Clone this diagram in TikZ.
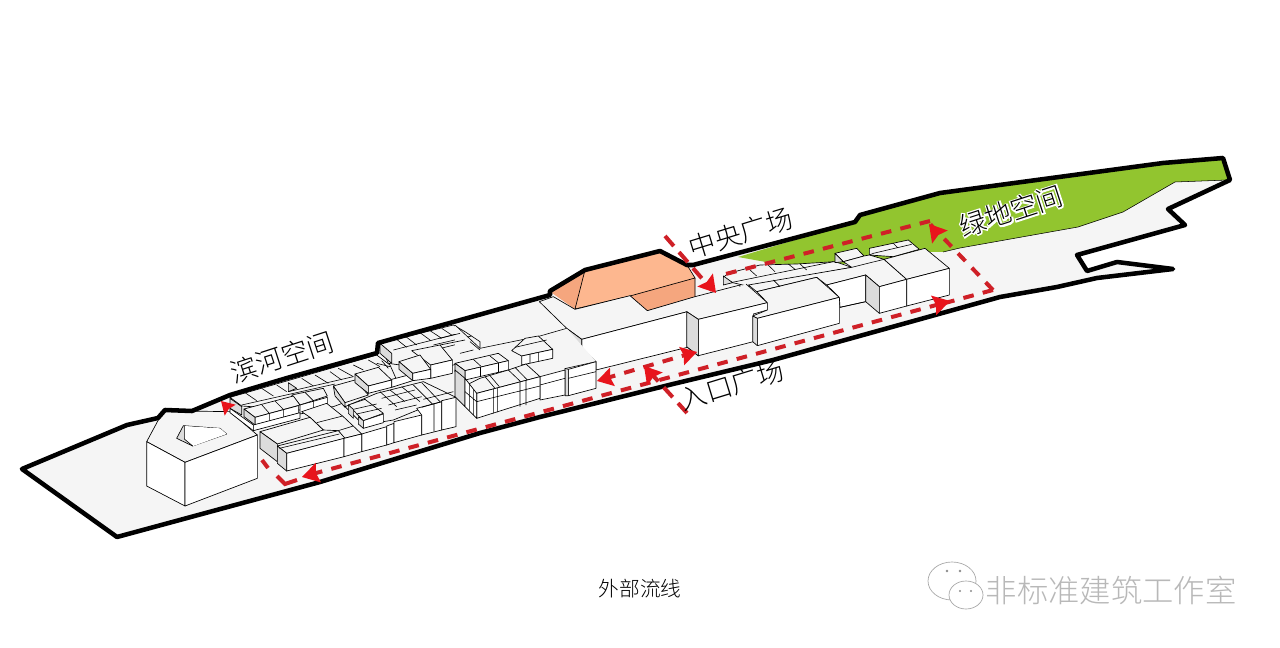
\documentclass[tikz,border=0pt]{standalone}
\usepackage{fontspec}
\newfontfamily\cjk[UprightFont={* Light}]{Noto Sans CJK SC}
\newfontfamily\cjkhalo[FakeBold=9]{Noto Sans CJK SC}
\tikzset{
 px/.style={x=0.75pt,y=-0.75pt},
 Zb/.style={shift={(220,310)},x=0.25pt,y=-0.25pt},
 Zc/.style={shift={(440,230)},x=0.25pt,y=-0.25pt},
 Zd/.style={shift={(660,190)},x=0.25pt,y=-0.25pt},
 Za/.style={shift={(0,340)},x=0.25pt,y=-0.25pt},
 e/.style={draw=black,line width=0.5pt,line join=round},
 tp/.style={e,fill=topc},
 sd/.style={e,fill=white},
 sh/.style={e,fill=shc},
 ln/.style={draw=black,line width=0.45pt},
 rim/.style={draw=black,line width=3.4pt,line join=round,line cap=round},
 rt/.style={draw=redc,line width=3pt,dash pattern=on 8pt off 7pt},
 tipr/.style={fill=redt,draw=none},
 lab/.style={font=\cjk\fontsize{20}{22}\selectfont,inner sep=0pt},
}
\definecolor{topc}{HTML}{F5F5F5}
\definecolor{shc}{HTML}{DCDCDC}
\definecolor{redc}{HTML}{CF2027}
\definecolor{redt}{HTML}{E8141C}
\definecolor{grn}{HTML}{92C52F}
\definecolor{org}{HTML}{FDB78F}
\definecolor{orgd}{HTML}{F5A67E}
\newcommand\tip[3]{%
 \fill[tipr,shift={#1},rotate=#2] (0,0) -- (-#3,-0.6*#3) -- (-0.85*#3,0) -- (-#3,0.6*#3) -- cycle;}
\newcommand\sitepath{(22,469) -- (127,425) -- (158,418) -- (165,410) -- (192,411) -- (230,395) -- (287,378) -- (377,353) -- (378,343) -- (550,295) -- (550,291) -- (585,270) -- (660,251) -- (687,265) -- (693,265) -- (855,222) -- (860,215) -- (940,193) -- (1163,163) -- (1223,158) -- (1230,180) -- (1168,209) -- (1185,225) -- (1077,255) -- (1087,271) -- (1117,262) -- (1173,269) -- (1097,278) -- (1057,287) -- (1000,297) -- (773,360) -- (673,384) -- (540,417) -- (480,433) -- (320,482) -- (117,537) -- cycle}
\begin{document}
\begin{tikzpicture}[px]
\useasboundingbox (0,0) rectangle (1280,648);
\fill[white] (0,0) rectangle (1280,648);
% site
\path[fill=topc] \sitepath;
% green
\fill[grn] (738,257) -- (855,222) -- (860,215) -- (940,193) -- (1163,163) -- (1223,158) -- (1228,180) -- (1175,182) -- (1123,212) -- (1078,227) -- (960,248) -- (943,252) -- (925,252) -- (875,264) -- (833,264) -- (777,264) -- cycle;
\draw[line width=0.4pt] (943,252) -- (960,248) -- (1078,227) -- (1123,212) -- (1175,182) -- (1228,180);
% orange
\fill[org] (550,291) -- (585,270) -- (660,251) -- (687,265) -- (695,278) -- (695,297) -- (647,311) -- (630,296) -- (575,309) -- cycle;
\fill[orgd] (552,293) -- (585,270) -- (575,309) -- cycle;
\fill[orgd] (630,296) -- (695,278) -- (695,297) -- (647,311) -- cycle;
\draw[line width=0.5pt] (585,270) -- (575,309) -- (630,296) -- (695,278) -- (687,265);
\draw[line width=0.5pt] (630,296) -- (647,311) -- (695,297) -- (695,278);
% ---- Left big block
\begin{scope}[Za]
\filldraw[tp] (440,305) -- (490,212) -- (690,215) -- (772,285) -- (555,367) -- cycle;
\filldraw[sd] (440,305) -- (555,367) -- (555,498) -- (440,438) -- cycle;
\filldraw[sd] (555,367) -- (772,285) -- (772,415) -- (555,498) -- cycle;
\filldraw[sh] (530,295) -- (550,257) -- (660,265) -- (680,282) -- (578,318) -- cycle;
\filldraw[fill=white,draw=none] (553,258) -- (660,265) -- (680,282) -- (580,318) -- (553,297) -- cycle;
\draw[ln] (553,258) -- (553,297) -- (578,318);
\end{scope}
% ---- main centre & right buildings
\begin{scope}[Zc]
\filldraw[tp] (298,215) -- (340,200) -- (405,238) -- (570,197) -- (622,242) -- (765,200) -- (900,165) -- (900,235) -- (775,270) -- (742,245) -- (425,328) -- (380,295) -- cycle;
\filldraw[sd] (425,328) -- (742,245) -- (742,352) -- (468,420) -- (468,395) -- (425,355) -- cycle;
\filldraw[sh] (380,295) -- (425,328) -- (425,355) -- (380,322) -- cycle;
\filldraw[sh] (742,245) -- (775,270) -- (775,378) -- (742,352) -- cycle;
\end{scope}
\begin{scope}[Zd]
% back low strip
\filldraw[tp] (190,262) -- (205,250) -- (300,225) -- (410,222) -- (525,215) -- (575,232) -- (270,290) -- (218,278) -- cycle;
\draw[ln] (270,240) -- (290,258) (325,226) -- (345,245) (385,222) -- (405,238) (420,222) -- (440,240) (212,278) -- (520,215);
\filldraw[sh] (190,285) -- (190,258) -- (218,278) -- cycle;
% back blocks
\filldraw[tp] (525,190) -- (590,175) -- (612,198) -- (550,215) -- cycle;
\filldraw[sh] (525,190) -- (550,215) -- (525,218) -- cycle;
\filldraw[tp] (628,175) -- (745,150) -- (778,178) -- (700,200) -- (628,195) -- cycle;
\draw[ln] (628,195) -- (640,190) -- (755,163) (700,160) -- (712,172);
% strip before
\filldraw[tp] (265,285) -- (575,232) -- (550,215) -- (612,198) -- (628,195) -- (672,208) -- (740,268) -- (658,290) -- (617,255) -- (500,285) -- (470,262) -- (290,305) -- cycle;
\draw[ln] (575,232) -- (672,208);
\filldraw[tp] (672,208) -- (795,175) -- (868,235) -- (740,268) -- cycle;
\fill[topc] (258,282) -- (322,338) -- (115,388) -- (80,365) -- cycle;
\draw[ln] (258,282) -- (322,338) -- (115,388) -- (80,365);
\filldraw[sd] (115,388) -- (322,338) -- (322,360) -- (280,372) -- (280,455) -- (115,497) -- cycle;
\filldraw[tp] (290,305) -- (470,262) -- (538,322) -- (292,385) -- (278,378) -- (322,360) -- (322,338) -- cycle;
\draw[ln] (340,270) -- (360,290);
\filldraw[sd] (292,385) -- (538,322) -- (538,400) -- (292,467) -- cycle;
\filldraw[sh] (278,378) -- (292,385) -- (292,467) -- (278,455) -- cycle;
\filldraw[sd] (500,285) -- (617,255) -- (617,335) -- (540,352) -- (538,322) -- cycle;
\draw[ln] (540,352) -- (617,335);
\filldraw[sh] (617,255) -- (658,290) -- (658,370) -- (617,335) -- cycle;
\filldraw[sd] (658,290) -- (740,268) -- (740,348) -- (658,370) -- cycle;
\filldraw[sd] (740,268) -- (868,235) -- (868,315) -- (740,348) -- cycle;
\filldraw[sh] (80,365) -- (115,388) -- (115,497) -- (80,470) -- cycle;
\end{scope}
% ---- river cluster
\begin{scope}[Zb]
\filldraw[tp] (480,100) -- (700,45) -- (735,65) -- (780,95) -- (780,140) -- (700,165) -- (632,178) -- (505,160) -- cycle;
\draw[ln] (530,88) -- (560,112) (555,78) -- (590,105) (600,68) -- (630,90) (630,62) -- (665,85) (665,55) -- (695,75) (520,120) -- (725,68) (640,105) -- (755,78) (650,118) -- (755,92);
\filldraw[sh] (480,100) -- (515,130) -- (515,160) -- (480,130) -- cycle;
\filldraw[tp] (575,122) -- (660,105) -- (697,150) -- (632,165) -- cycle;
\filldraw[sd] (632,165) -- (697,150) -- (697,190) -- (632,205) -- cycle;
% first row top
\filldraw[tp] (30,262) -- (200,213) -- (470,135) -- (510,165) -- (530,210) -- (420,260) -- (340,290) -- (240,300) -- (65,288) -- cycle;
\draw[ln] (75,248) -- (110,272) (125,235) -- (160,258) (170,225) -- (200,245) (245,205) -- (280,228) (285,195) -- (325,220) (330,185) -- (365,210) (355,175) -- (400,200) (400,165) -- (430,180) (445,150) -- (480,170);
\draw[ln] (65,285) -- (345,222) (205,245) -- (400,200);
\filldraw[sh] (205,218) -- (230,235) -- (205,245) -- cycle;
\filldraw[sh] (30,265) -- (65,290) -- (65,315) -- (30,295) -- cycle;
\filldraw[sd] (30,295) -- (100,345) -- (100,362) -- (30,308) -- cycle;
% central plate
\filldraw[tp] (340,228) -- (405,210) -- (445,255) -- (375,278) -- cycle;
\filldraw[sh] (340,228) -- (375,278) -- (375,292) -- (345,258) -- cycle;
% upper block
\filldraw[tp] (405,192) -- (475,172) -- (515,210) -- (445,228) -- cycle;
\filldraw[sh] (405,192) -- (445,228) -- (445,250) -- (405,218) -- cycle;
\filldraw[sd] (445,228) -- (515,210) -- (515,232) -- (445,250) -- cycle;
\filldraw[sd] (515,208) -- (578,192) -- (578,212) -- (515,232) -- cycle;
\draw[ln] (470,160) -- (510,170) (485,152) -- (505,175);
% block E
\filldraw[tp] (537,155) -- (600,135) -- (632,178) -- (578,190) -- cycle;
\filldraw[sh] (537,155) -- (578,190) -- (578,212) -- (537,178) -- cycle;
\filldraw[sd] (578,190) -- (632,178) -- (632,205) -- (578,212) -- cycle;
% left tiers
\filldraw[tp] (215,255) -- (310,235) -- (322,258) -- (240,285) -- cycle;
\filldraw[sd] (240,285) -- (322,262) -- (322,295) -- (240,312) -- cycle;
\draw[ln] (280,272) -- (280,298) (255,247) -- (280,272);
\filldraw[tp] (72,297) -- (220,258) -- (240,285) -- (105,322) -- cycle;
\filldraw[sd] (105,322) -- (235,287) -- (235,310) -- (105,345) -- cycle;
\filldraw[sh] (72,297) -- (105,322) -- (105,345) -- (72,320) -- cycle;
\draw[ln] (148,310) -- (148,333) (190,298) -- (190,322) (125,284) -- (148,310) (165,273) -- (190,298);
\filldraw[sd] (100,345) -- (240,308) -- (240,325) -- (100,362) -- cycle;
% mid roofs
\filldraw[tp] (470,250) -- (610,215) -- (708,262) -- (605,295) -- (520,330) -- (430,345) -- (375,290) -- cycle;
\draw[ln] (480,245) -- (530,290) (510,240) -- (555,275) (545,230) -- (600,275) (580,225) -- (640,285) (605,218) -- (660,275) (485,265) -- (585,240) (505,285) -- (605,260) (525,300) -- (590,285) (610,268) -- (700,245);
% front mid
\filldraw[sd] (425,372) -- (500,350) -- (500,405) -- (425,425) -- cycle;
\filldraw[sd] (500,348) -- (522,340) -- (522,398) -- (500,405) -- cycle;
\filldraw[sd] (522,335) -- (605,315) -- (605,375) -- (522,398) -- cycle;
\filldraw[sd] (590,295) -- (665,275) -- (665,360) -- (605,375) -- (605,315) -- cycle;
\filldraw[sd] (665,272) -- (708,262) -- (708,350) -- (665,360) -- cycle;
\draw[ln] (642,280) -- (642,365) (605,292) -- (665,275);
\filldraw[tp] (245,305) -- (320,280) -- (370,320) -- (425,372) -- (372,385) -- (355,362) -- (310,360) -- (270,322) -- cycle;
\draw[ln] (290,338) -- (368,318) (345,365) -- (400,348);
% stepped blocks
\filldraw[tp] (385,285) -- (435,268) -- (490,310) -- (430,332) -- cycle;
\filldraw[sh] (385,285) -- (400,298) -- (400,325) -- (385,310) -- cycle;
\filldraw[sd] (430,332) -- (490,312) -- (490,338) -- (430,355) -- cycle;
\filldraw[sh] (415,320) -- (430,332) -- (430,355) -- (415,342) -- cycle;
\draw[ln] (400,298) -- (470,282) (410,312) -- (485,295);
% long front block
\filldraw[tp] (120,365) -- (270,322) -- (310,360) -- (172,402) -- cycle;
\filldraw[sh] (120,365) -- (172,402) -- (172,455) -- (120,415) -- cycle;
\filldraw[tp] (172,408) -- (355,362) -- (375,385) -- (200,430) -- cycle;
\filldraw[sh] (172,408) -- (200,430) -- (200,483) -- (172,460) -- cycle;
\filldraw[sd] (200,430) -- (372,385) -- (372,440) -- (200,483) -- cycle;
\filldraw[sd] (372,385) -- (425,372) -- (425,425) -- (372,440) -- cycle;
\draw[ln] (178,415) -- (358,372);
\end{scope}
% ---- cluster 2
\begin{scope}[Zc]
\fill[topc] (45,285) -- (120,355) -- (300,318) -- (380,295) -- (468,395) -- (378,415) -- (300,440) -- (110,490) -- (45,420) -- cycle;
\draw[ln] (45,285) -- (120,355) -- (300,318) -- (380,295) (468,395) -- (378,415);
\draw[ln] (0,325) -- (60,310) (0,345) -- (75,330) (60,370) -- (100,360) (90,335) -- (120,360);
\filldraw[tp] (45,400) -- (175,370) -- (205,392) -- (75,422) -- cycle;
\draw[ln] (100,388) -- (122,408) (150,378) -- (175,398);
\filldraw[sd] (75,422) -- (205,392) -- (205,420) -- (75,450) -- cycle;
\draw[ln] (122,410) -- (122,440) (175,398) -- (175,428);
\filldraw[sh] (45,400) -- (75,422) -- (75,450) -- (45,425) -- cycle;
\filldraw[tp] (215,362) -- (255,325) -- (295,318) -- (338,358) -- (245,378) -- cycle;
\filldraw[sd] (245,378) -- (338,358) -- (338,385) -- (245,405) -- cycle;
\draw[ln] (270,372) -- (270,400) (295,367) -- (295,395) (225,352) -- (320,330);
\filldraw[sd] (385,418) -- (468,395) -- (468,475) -- (385,497) -- cycle;
\filldraw[sh] (375,415) -- (385,418) -- (385,497) -- (375,497) -- cycle;
\draw[ln] (385,445) -- (468,425);
\filldraw[sd] (300,440) -- (375,420) -- (375,495) -- (300,510) -- cycle;
\draw[ln] (300,465) -- (375,445);
\filldraw[tp] (120,445) -- (205,420) -- (258,402) -- (300,440) -- (110,490) -- (80,465) -- cycle;
\draw[ln] (135,440) -- (165,475) (150,437) -- (178,470) (205,420) -- (245,458) (225,412) -- (262,450);
\filldraw[sd] (110,490) -- (300,440) -- (300,505) -- (110,565) -- cycle;
\draw[ln] (160,477) -- (160,550) (172,474) -- (172,546) (240,455) -- (240,530) (258,450) -- (258,525) (110,515) -- (300,468);
\filldraw[sh] (45,420) -- (75,445) -- (75,530) -- (45,500) -- cycle;
\filldraw[sd] (75,445) -- (110,490) -- (110,565) -- (75,530) -- cycle;
\draw[ln] (88,462) -- (88,542) (100,478) -- (100,555) (75,485) -- (110,515);
\end{scope}
% rim
\draw[rim] \sitepath;
% red routes
\coordinate (ra) at (993,290); \coordinate (rb) at (930,224);
\draw[rt] (ra) -- (945,303);
\draw[rt] (ra) -- (rb);
\draw[rt] (930,221) -- (718,276);
\draw[rt,dash pattern=on 10pt off 6pt] (665,236) -- (712,290);
\draw[rt] (940,304) -- (305,476);
\draw[rt] (692,353) -- (600,380);
\draw[rt,dash pattern=on 10pt off 6pt] (687,413) -- (648,370);
\draw[draw=redc,line width=3pt] (262,460) -- (268,468) (277,476) -- (285,484) -- (297,480);
\tip{(716,293)}{-50}{17}
\tip{(950,301)}{15}{17}
\tip{(929,224)}{130}{17}
\tip{(302,477)}{-165}{17}
\tip{(597,381)}{-165}{16}
\tip{(697,352)}{15}{16}
\tip{(644,366)}{130}{17}
\tip{(221,401)}{135}{13}
% labels
\node[lab,rotate=18] (lb1) at (282,357) {滨河空间};
\node[lab,rotate=17] (lb2) at (741,233) {中央广场};
\node[lab,rotate=17] (lb3) at (732,385) {入口广场};
\node[lab,rotate=18,font=\cjkhalo\fontsize{20}{22}\selectfont,text=white] (lb4h) at (1011,211) {绿地空间};
\node[lab,rotate=18] (lb4) at (1011,211) {绿地空间};
\node[inner sep=0pt,font=\cjk\fontsize{15.5}{17}\selectfont] (cap) at (640,589) {外部流线};
% watermark
\filldraw[fill=white,draw=black!35,line width=0.5pt] (952,581) ellipse (24 and 19);
\filldraw[fill=white,draw=black!35,line width=0.5pt] (966,595) ellipse (17 and 14);
\fill[black!45] (947,571) circle (1.4) (960,571) circle (1.4) (960,591) circle (1.2) (971,591) circle (1.2);
\node[inner sep=0pt,font=\cjk\fontsize{23.5}{26}\selectfont,text=black!28] (wm) at (1111,590) {非标准建筑工作室};
\end{tikzpicture}
\end{document}
